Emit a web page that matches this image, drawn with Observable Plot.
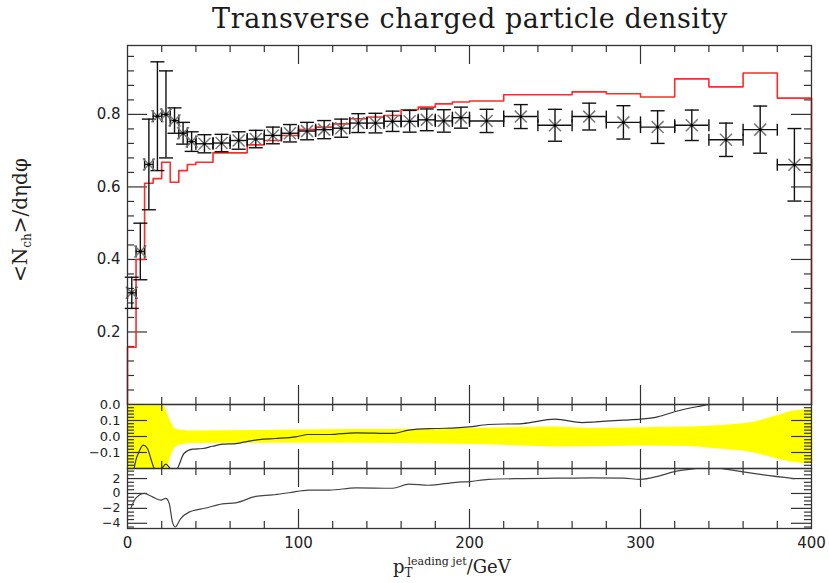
<!DOCTYPE html>
<html><head><meta charset="utf-8">
<script src="https://cdn.jsdelivr.net/npm/d3@7"></script>
<script src="https://cdn.jsdelivr.net/npm/@observablehq/plot@0.6"></script>
<style>
body{margin:0;background:#fff;}
#chart{position:relative;width:829px;height:583px;overflow:hidden;background:#fff;}
#chart svg{position:absolute;left:0;}
</style></head><body><div id="chart"></div>
<script>
// ---- data ----
const binEdges = [0,5,10,15,20,25,30,35,40,50,60,70,80,90,100,110,120,130,140,150,160,170,180,190,200,220,240,260,280,300,320,340,360,380,400];
const dataY = [0.308,0.422,0.662,0.795,0.800,0.783,0.748,0.725,
  0.719,0.721,0.728,0.732,0.742,0.748,0.754,0.758,0.762,0.776,0.776,0.781,0.781,0.785,0.782,0.791,
  0.782,0.794,0.770,0.794,0.778,0.765,0.770,0.730,0.758,0.661];
const dataErr = [0.043,0.078,0.125,0.150,0.120,0.035,0.030,0.027,
  0.025,0.024,0.024,0.024,0.023,0.024,0.024,0.025,0.025,0.026,0.027,0.028,0.030,0.030,0.031,0.029,
  0.032,0.033,0.044,0.037,0.046,0.045,0.042,0.046,0.065,0.100];
const mcVal = [0.158,0.400,0.610,0.623,0.668,0.613,0.645,0.662,
  0.668,0.694,0.694,0.716,0.728,0.742,0.758,0.765,0.774,0.788,0.793,0.797,0.813,0.820,0.829,0.834,
  0.837,0.854,0.854,0.862,0.857,0.848,0.898,0.876,0.914,0.845];

const bandX  = [0,18.5,20.5,22.4,23.4,25.3,27.3,30,36,60,100,133,160,203,250,271,300,330,348,360,368,380,388,395,400];
const bandHi = [0.25,0.25,0.2,0.175,0.14,0.094,0.05,0.04,0.035,0.036,0.04,0.043,0.044,0.05,0.06,0.05,0.055,0.06,0.068,0.08,0.092,0.13,0.157,0.165,0.167];
const bandLo = [-0.25,-0.25,-0.25,-0.25,-0.2,-0.13,-0.075,-0.055,-0.044,-0.042,-0.042,-0.042,-0.044,-0.05,-0.065,-0.064,-0.06,-0.062,-0.08,-0.09,-0.106,-0.14,-0.16,-0.168,-0.17];

const devX = [2.5,3.9,6.8,9.2,11.7,13.6,15.6,17.5,20,22.4,25,27.5,29.2,33,38,44,49.7,55.5,63.3,71,77,86.7,98.4,106,118,133.5,155,164.5,180,192,199.6,211,231,250,266,274,290,300,310,321,335,340,350,370,390];
const devY = [-0.49,-0.2,-0.094,-0.054,-0.075,-0.137,-0.2,-0.22,-0.2,-0.173,-0.2,-0.22,-0.2,-0.106,-0.079,-0.075,-0.061,-0.048,-0.044,-0.029,-0.019,-0.0125,-0.002,0.0125,0.0125,0.023,0.019,0.04,0.05,0.054,0.06,0.075,0.081,0.108,0.087,0.092,0.102,0.108,0.123,0.158,0.19,0.2,0.22,0.21,0.28];

const pullX = [2,5,9.8,14.6,19.5,22.4,24.4,26.3,27.9,31,36,45.8,55.5,63.3,75,84.8,94.5,106,118,133.5,155,164.5,176,192,200,211,231,250,271,290,300,310,321,331,340,348.7,360,372,389.7];
const pullY = [-1.95,-0.6,0,-0.45,-0.9,-0.67,-1.35,-3.85,-4.5,-3.4,-2.5,-1.95,-1.4,-1.25,-0.4,-0.2,0.1,0.45,0.45,0.75,0.7,1.25,1.1,1.5,1.6,1.9,2.0,2.05,2.1,2.05,1.9,2.3,3.0,3.3,3.6,3.3,2.9,2.5,2.0];

const xTickValues = [0,100,200,300,400];
const xTickLabels = ["0","100","200","300","400"];
const topTickValues = [0.2,0.4,0.6,0.8];
const topTickLabels = ["0.2","0.4","0.6","0.8"];
const midTickValues = [0.2,0.1,0,-0.1];
const midTickLabels = ["0.0","0.1","0.0","\u22120.1"];
const botTickValues = [2,0,-2,-4];
const botTickLabels = ["2","0","\u22122","\u22124"];

// ---- helpers ----
const W = 829, ML = 127, MR = 18, FW = W - ML - MR;
const TC = "#333";
const hcap = {draw(ctx, size){const w=Math.sqrt(size/Math.PI);ctx.moveTo(-w,0);ctx.lineTo(w,0);}};
const vcap = {draw(ctx, size){const w=Math.sqrt(size/Math.PI);ctx.moveTo(0,-w);ctx.lineTo(0,w);}};
const notIn = (arr, major) => arr.filter(v => !major.some(m => Math.abs(m - v) < 1e-6));

function edgeTicks(FH, xMinor, xMajor, yMinor, yMajor, xMajLen, yMajLen) {
  const o = {stroke: TC, strokeWidth: 1.2};
  return [
    Plot.ruleX(xMinor, {...o, insetBottom: FH - 7}),
    Plot.ruleX(xMinor, {...o, insetTop: FH - 7}),
    Plot.ruleX(xMajor, {...o, insetBottom: FH - xMajLen}),
    Plot.ruleX(xMajor, {...o, insetTop: FH - xMajLen}),
    Plot.ruleY(yMinor, {...o, insetRight: FW - 7}),
    Plot.ruleY(yMinor, {...o, insetLeft: FW - 7}),
    Plot.ruleY(yMajor, {...o, insetRight: FW - yMajLen}),
    Plot.ruleY(yMajor, {...o, insetLeft: FW - yMajLen})
  ];
}
const xMajorInner = [100,200,300];
const xMinor = notIn(d3.range(20, 400, 20), xMajorInner);
const baseStyle = (fs) => ({background: "transparent", overflow: "visible", fontFamily: "DejaVu Sans, sans-serif", fontSize: fs + "px", color: "#222"});

const chart = document.getElementById("chart");

// ---- top panel ----
const pts = dataY.map((y, i) => ({lo: binEdges[i], hi: binEdges[i+1], x: (binEdges[i] + binEdges[i+1]) / 2, y, ylo: y - dataErr[i], yhi: y + dataErr[i]}));
const mcPts = [{x: 0, y: 0}, ...mcVal.map((v, i) => ({x: binEdges[i], y: v})), {x: 400, y: 0}];
const topFH = 404 - 45;
const topYMajor = [0.2,0.4,0.6,0.8];
const topYMinor = notIn(d3.range(0.04, 0.99, 0.04), topYMajor);

const topPlot = Plot.plot({
  width: W, height: 405, marginLeft: ML, marginRight: MR, marginTop: 45, marginBottom: 1,
  style: baseStyle(15),
  x: {domain: [0, 400], axis: null},
  y: {domain: [0, 0.99]},
  marks: [
    ...edgeTicks(topFH, xMinor, xMajorInner, topYMinor, topYMajor, 19, 20),
    Plot.line(mcPts, {x: "x", y: "y", curve: "step-after", stroke: "#ff2a2a", strokeWidth: 1.6}),
    Plot.ruleY(pts, {y: "y", x1: "lo", x2: "hi", stroke: "#111", strokeWidth: 1.4}),
    Plot.ruleX(pts, {x: "x", y1: "ylo", y2: "yhi", stroke: "#111", strokeWidth: 1.4}),
    Plot.dot(pts, {x: "x", y: "ylo", symbol: hcap, r: 7, stroke: "#111", fill: "none", strokeWidth: 1.4}),
    Plot.dot(pts, {x: "x", y: "yhi", symbol: hcap, r: 7, stroke: "#111", fill: "none", strokeWidth: 1.4}),
    Plot.dot(pts, {x: "lo", y: "y", symbol: vcap, r: 6, stroke: "#111", fill: "none", strokeWidth: 1.4}),
    Plot.dot(pts, {x: "hi", y: "y", symbol: vcap, r: 6, stroke: "#111", fill: "none", strokeWidth: 1.4}),
    Plot.dot(pts, {x: "x", y: "y", symbol: "times", r: 5.5, stroke: "#777", strokeWidth: 1.5}),
    Plot.dot(pts, {x: "x", y: "y", r: 1.6, fill: "#000", stroke: "none"}),
    Plot.frame({stroke: TC, strokeWidth: 1.3}),
    Plot.axisY({ticks: topTickValues, tickSize: 0, tickPadding: 7, label: null, tickFormat: (d) => topTickLabels[topTickValues.indexOf(d)]})
  ]
});
topPlot.style.top = "0px";
chart.appendChild(topPlot);

// title and y label
const ts = d3.select(topPlot);
ts.append("text").attr("x", 470).attr("y", 28).attr("text-anchor", "middle")
  .attr("font-family", "DejaVu Serif, serif").attr("font-size", 27).attr("letter-spacing", 0.6).attr("fill", "#1a1a1a")
  .text("Transverse charged particle density");
const yl = ts.append("text").attr("transform", "translate(27,220) rotate(-90)").attr("text-anchor", "middle")
  .attr("font-family", "DejaVu Serif, serif").attr("font-size", 20).attr("fill", "#222");
yl.append("tspan").text("<N");
yl.append("tspan").attr("font-size", 12).attr("dy", 4).text("ch");
yl.append("tspan").attr("dy", -4).text(">/d\u03b7d\u03c6");

// ---- middle panel ----
const band = bandX.map((x, i) => ({x, lo: bandLo[i], hi: bandHi[i]}));
const dev = devX.map((x, i) => ({x, y: devY[i]}));
const midFH = 64;
const midYMajor = [0.1, 0, -0.1];
const midYMinor = notIn(d3.range(-0.18, 0.2, 0.02), midYMajor);
const midPlot = Plot.plot({
  width: W, height: 84, marginLeft: ML, marginRight: MR, marginTop: 10, marginBottom: 10,
  style: baseStyle(13),
  x: {domain: [0, 400], axis: null},
  y: {domain: [-0.2, 0.2]},
  marks: [
    Plot.areaY(band, {x: "x", y1: "lo", y2: "hi", fill: "#ffff00", curve: "linear", clip: true}),
    ...edgeTicks(midFH, xMinor, xMajorInner, midYMinor, midYMajor, 19, 20),
    Plot.line(dev, {x: "x", y: "y", curve: "monotone-x", stroke: "#333", strokeWidth: 1.2, clip: true}),
    Plot.frame({stroke: TC, strokeWidth: 1.3}),
    Plot.axisY({ticks: midTickValues, tickSize: 0, tickPadding: 7, label: null, tickFormat: (d) => midTickLabels[midTickValues.indexOf(d)]})
  ]
});
midPlot.style.top = "394px";
chart.appendChild(midPlot);

// ---- bottom panel ----
const pull = pullX.map((x, i) => ({x, y: pullY[i]}));
const botFH = 60;
const botYMajor = [2, 0, -2, -4];
const botYMinor = notIn(d3.range(-4.5, 3.4, 0.5), botYMajor);
const botPlot = Plot.plot({
  width: W, height: 125, marginLeft: ML, marginRight: MR, marginTop: 10, marginBottom: 55,
  style: baseStyle(12.5),
  x: {domain: [0, 400]},
  y: {domain: [-4.7, 3.35]},
  marks: [
    ...edgeTicks(botFH, xMinor, xMajorInner, botYMinor, botYMajor, 19, 20),
    Plot.line(pull, {x: "x", y: "y", curve: "monotone-x", stroke: "#444", strokeWidth: 1.2, clip: true}),
    Plot.frame({stroke: TC, strokeWidth: 1.3}),
    Plot.axisY({ticks: botTickValues, tickSize: 0, tickPadding: 7, label: null, tickFormat: (d) => botTickLabels[botTickValues.indexOf(d)]}),
    Plot.axisX({ticks: xTickValues, tickSize: 0, tickPadding: 9, label: null, fontSize: 15, tickFormat: (d) => xTickLabels[xTickValues.indexOf(d)]})
  ]
});
botPlot.style.top = "458px";
chart.appendChild(botPlot);

const xl = d3.select(botPlot).append("text").attr("x", 393).attr("y", 115).attr("text-anchor", "start")
  .attr("font-family", "DejaVu Serif, serif").attr("font-size", 18).attr("fill", "#222");
xl.append("tspan").text("p");
xl.append("tspan").attr("font-size", 12).attr("dy", 4).text("T");
xl.append("tspan").attr("font-size", 11).attr("dx", -5).attr("dy", -12).text("leading jet");
xl.append("tspan").attr("dy", 8).text("/GeV");
</script>
</body></html>
